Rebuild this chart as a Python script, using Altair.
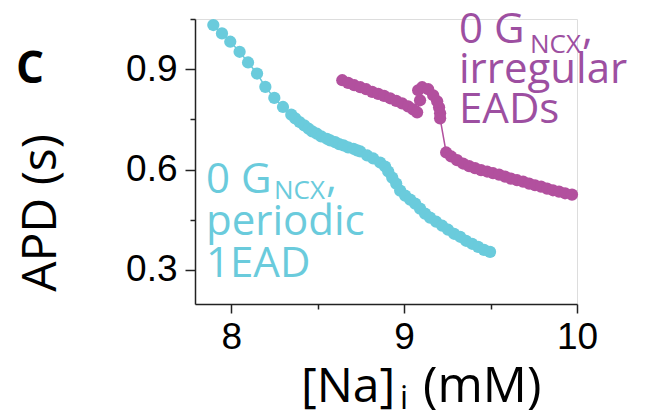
import altair as alt
import pandas as pd

# ---------------- data ----------------
cyan_na = [7.896, 7.946, 7.994, 8.048, 8.097, 8.149, 8.197, 8.249, 8.299, 8.347,
           8.370, 8.395, 8.422, 8.447, 8.468, 8.495, 8.520, 8.553, 8.572, 8.601,
           8.624, 8.649, 8.676, 8.707, 8.728, 8.746, 8.786, 8.821, 8.861, 8.890,
           8.908, 8.931, 8.954, 8.977, 9.006, 9.035, 9.064, 9.092, 9.121, 9.150,
           9.185, 9.220, 9.254, 9.289, 9.324, 9.358, 9.393, 9.428, 9.462, 9.497]
cyan_apd = [1.032, 1.007, 0.982, 0.952, 0.920, 0.887, 0.847, 0.814, 0.787, 0.764,
            0.753, 0.742, 0.732, 0.722, 0.714, 0.707, 0.699, 0.692, 0.687, 0.682,
            0.676, 0.672, 0.666, 0.662, 0.657, 0.654, 0.642, 0.633, 0.621, 0.609,
            0.594, 0.576, 0.558, 0.537, 0.522, 0.510, 0.498, 0.483, 0.468, 0.456,
            0.444, 0.432, 0.420, 0.408, 0.399, 0.387, 0.378, 0.369, 0.360, 0.354]

purple_na = [8.642, 8.676, 8.711, 8.746, 8.780, 8.815, 8.850, 8.884, 8.919, 8.954,
             8.988, 9.023, 9.052, 9.075, 9.092, 9.081, 9.104, 9.139, 9.168, 9.191,
             9.202, 9.208, 9.208,
             9.243, 9.272, 9.306, 9.341, 9.376, 9.410, 9.445, 9.480, 9.514, 9.549,
             9.584, 9.618, 9.653, 9.688, 9.723, 9.757, 9.792, 9.827, 9.861, 9.896,
             9.931, 9.971]
purple_apd = [0.867, 0.859, 0.852, 0.846, 0.840, 0.832, 0.826, 0.820, 0.813, 0.805,
              0.798, 0.789, 0.780, 0.771, 0.807, 0.837, 0.846, 0.840, 0.822, 0.804,
              0.786, 0.768, 0.753,
              0.651, 0.639, 0.628, 0.618, 0.610, 0.604, 0.598, 0.594, 0.589, 0.585,
              0.579, 0.573, 0.568, 0.564, 0.558, 0.553, 0.549, 0.543, 0.538, 0.534,
              0.529, 0.525]

x_ticks = [8, 8.5, 9, 9.5, 10]
y_ticks = [0.3, 0.45, 0.6, 0.75, 0.9, 1.05]
x_domain = [7.79, 10.0]
y_domain = [0.198, 1.05]

# ---------------- style ----------------
CYAN = "#6ACBDC"
PURPLE = "#B2509E"
PURPLE_TEXT = "#9D4FA1"
AXIS = "#222222"
TXT_FONT = "Open Sans"
NUM_FONT = "Liberation Sans"

W, H = 382, 285          # plot area
OX, OY = 195, 19         # plot origin in the page

df = pd.DataFrame({
    "na": cyan_na + purple_na,
    "apd": cyan_apd + purple_apd,
    "series": ["periodic"] * len(cyan_na) + ["irregular"] * len(purple_na),
    "order": list(range(len(cyan_na))) + list(range(len(purple_na))),
})

xaxis = alt.Axis(
    values=x_ticks,
    labelExpr="datum.value % 1 == 0 ? format(datum.value, 'd') : ''",
    tickSize={"condition": {"test": "datum.value % 1 == 0", "value": 9}, "value": 5},
    labelFont=NUM_FONT, labelFontSize=37, labelColor="black", labelPadding=6,
    domainColor=AXIS, domainWidth=1.5, tickColor=AXIS, tickWidth=1.5,
    grid=False, title=None, labelFlush=False,
)
yaxis = alt.Axis(
    values=y_ticks,
    labelExpr="indexof([0.3, 0.6, 0.9], datum.value) >= 0 ? format(datum.value, '.1f') : ''",
    tickSize={"condition": {"test": "indexof([0.3, 0.6, 0.9], datum.value) >= 0", "value": 10}, "value": 5},
    labelFont=NUM_FONT, labelFontSize=37, labelColor="black", labelPadding=8,
    domainColor=AXIS, domainWidth=1.5, tickColor=AXIS, tickWidth=1.5,
    grid=False, title=None, labelFlush=False,
)

color = alt.Color("series:N", scale=alt.Scale(domain=["periodic", "irregular"], range=[CYAN, PURPLE]), legend=None)

base = alt.Chart(df).encode(
    x=alt.X("na:Q", scale=alt.Scale(domain=x_domain, nice=False, zero=False), axis=xaxis),
    y=alt.Y("apd:Q", scale=alt.Scale(domain=y_domain, nice=False, zero=False), axis=yaxis),
    color=color,
    detail="series:N",
    order="order:Q",
)
lines = base.mark_line(strokeWidth=1.5)
points = base.mark_circle(size=150, opacity=1)


def txt(text, px, py, size, col, font=TXT_FONT, weight="normal", angle=0, align="left"):
    return alt.Chart(pd.DataFrame({"t": [text]})).mark_text(
        font=font, fontSize=size, fontWeight=weight, color=col, align=align,
        baseline="alphabetic", angle=angle,
    ).encode(x=alt.value(px - OX), y=alt.value(py - OY), text="t:N")


labels = [
    # panel letter
    txt("C", 16, 83, 44, "black", weight="bold"),
    # y title
    txt("APD (s)", 56, 213, 48, "black", angle=270, align="center"),
    # x title
    txt("[Na]", 301, 402, 48, "black"),
    txt("i", 400, 409, 32, "black"),
    txt("(mM)", 423, 402, 49, "black"),
    # cyan annotation
    txt("0 G", 206, 193, 42, CYAN),
    txt("NCX", 274, 199, 26, CYAN),
    txt(",", 326, 192, 42, CYAN),
    txt("periodic", 206, 235, 42, CYAN),
    txt("1EAD", 206, 277, 42, CYAN),
    # purple annotation
    txt("0 G", 459, 43, 42, PURPLE_TEXT),
    txt("NCX", 530, 53, 26, PURPLE_TEXT),
    txt(",", 582, 44, 42, PURPLE_TEXT),
    txt("irregular", 459, 83, 42, PURPLE_TEXT),
    txt("EADs", 459, 123, 42, PURPLE_TEXT),
]

chart = alt.layer(lines, points, *labels).properties(
    width=W, height=H,
    padding={"left": OX, "top": OY, "right": 646 - OX - W, "bottom": 415 - OY - H},
    autosize=alt.AutoSizeParams(type="none"),
).configure_view(stroke=None).configure(background="white")

chart.save("out.html", embed_options={"renderer": "svg", "actions": False})
